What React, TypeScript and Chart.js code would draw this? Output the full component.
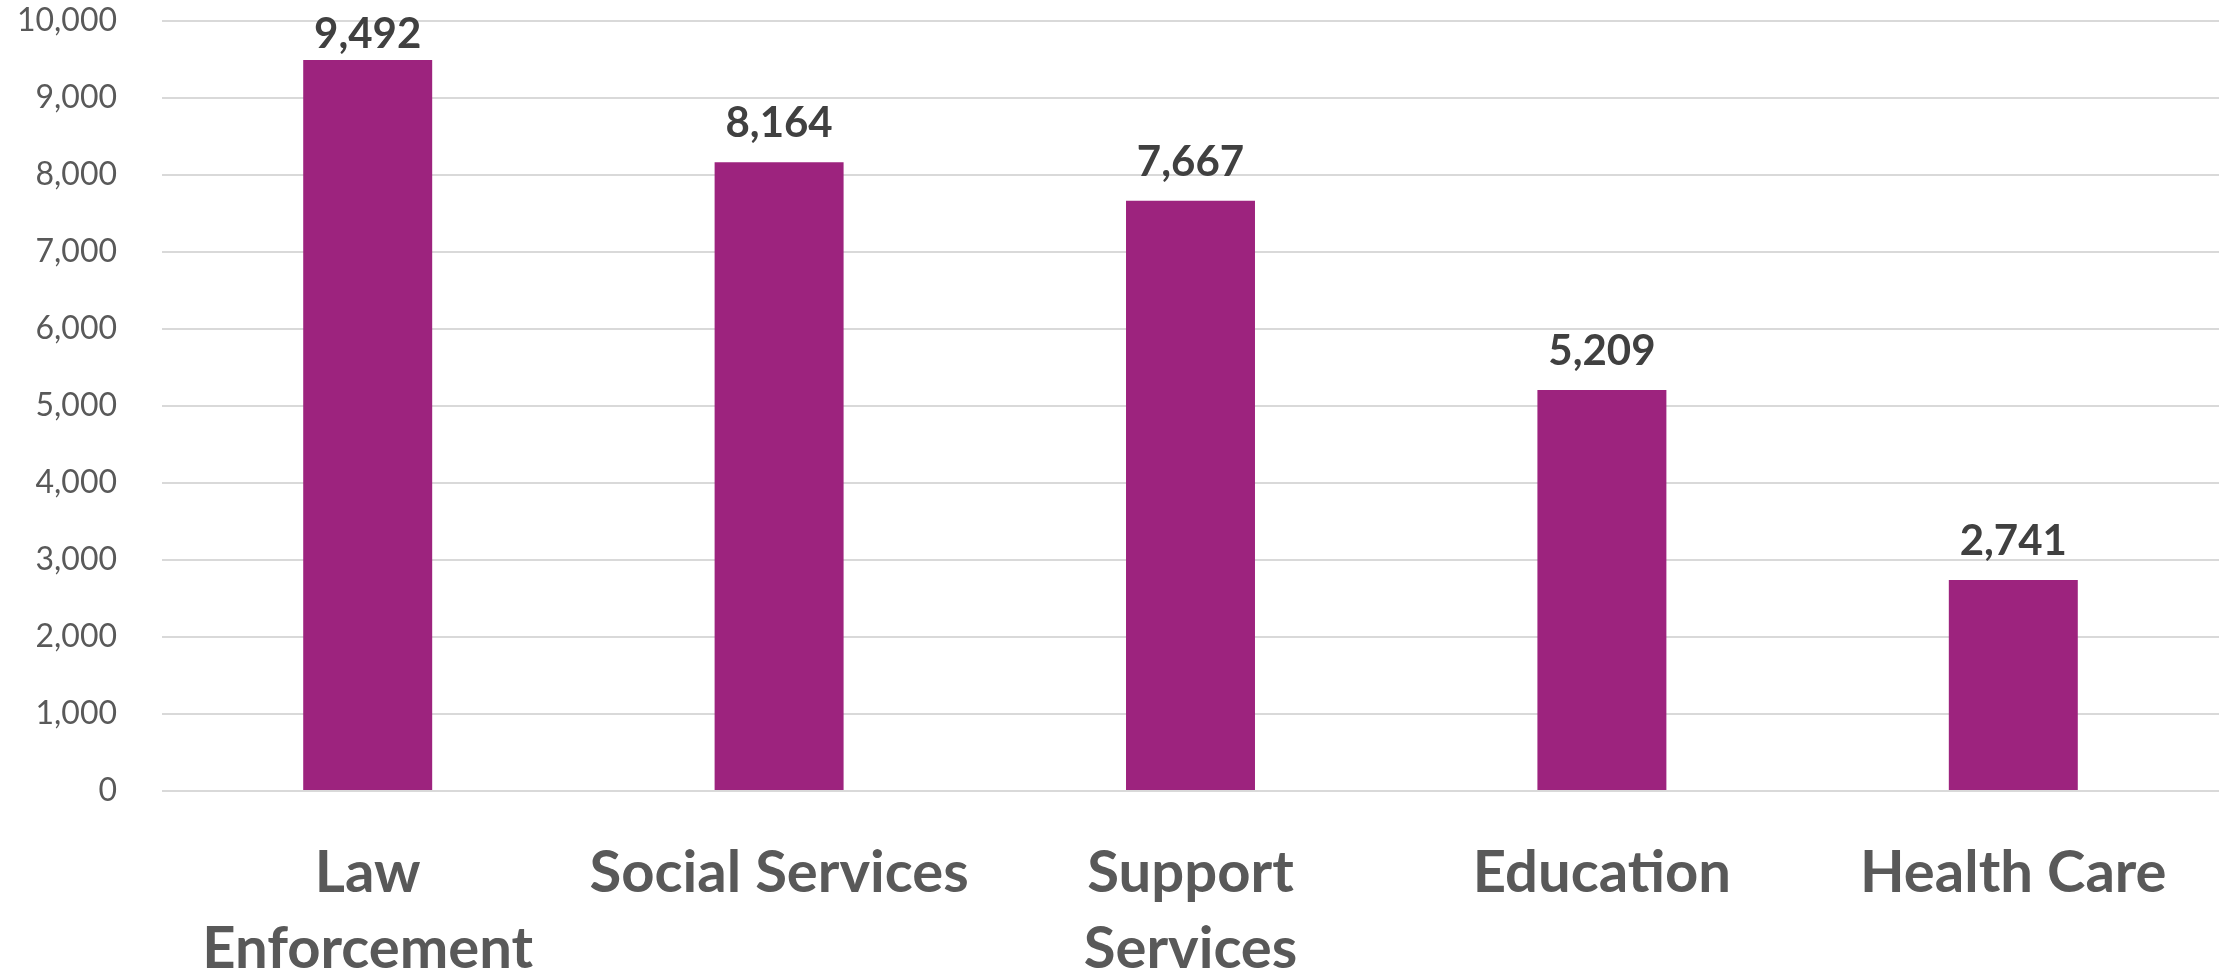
import React, { useEffect, useRef } from "react";
import { Chart, registerables } from "chart.js";

Chart.register(...registerables);

const categories: (string | string[])[] = [
  ["Law", "Enforcement"],
  "Social Services",
  ["Support", "Services"],
  "Education",
  "Health Care",
];
const values: number[] = [9492, 8164, 7667, 5209, 2741];
const yTicks: number[] = [0, 1000, 2000, 3000, 4000, 5000, 6000, 7000, 8000, 9000, 10000];

const BAR_COLOR = "#9D237E";
const FONT = "Lato, 'Open Sans', sans-serif";

const fmt = (v: number) => v.toLocaleString("en-US");

const dataLabelPlugin = {
  id: "dataLabels",
  afterDatasetsDraw(chart: any) {
    const ctx = chart.ctx;
    const meta = chart.getDatasetMeta(0);
    ctx.save();
    ctx.font = `bold 42px ${FONT}`;
    ctx.fillStyle = "#404040";
    ctx.textAlign = "center";
    ctx.textBaseline = "alphabetic";
    meta.data.forEach((bar: any, i: number) => {
      const y = Math.max(bar.y - 25, chart.chartArea.top + 27);
      ctx.fillText(fmt(values[i]), bar.x, y);
    });
    ctx.restore();
  },
};

export default function App() {
  const ref = useRef<HTMLCanvasElement | null>(null);
  useEffect(() => {
    if (!ref.current) return;
    const chart = new Chart(ref.current, {
      type: "bar",
      data: {
        labels: categories,
        datasets: [
          {
            data: values,
            backgroundColor: BAR_COLOR,
            borderWidth: 0,
            categoryPercentage: 1,
            barPercentage: 0.3135,
          },
        ],
      },
      options: {
        responsive: false,
        animation: false,
        devicePixelRatio: 1,
        layout: { padding: { left: 0, right: 15, top: 21, bottom: 0 } },
        plugins: {
          legend: { display: false },
          tooltip: { enabled: false },
        },
        scales: {
          x: {
            grid: { display: false, drawTicks: false },
            border: { display: false },
            ticks: {
              color: "#595959",
              font: { family: FONT, size: 58, weight: "bold", lineHeight: 1.3 },
              padding: 45,
              maxRotation: 0,
              autoSkip: false,
            },
            afterFit(scale: any) {
              scale.height = 184;
              scale.paddingLeft = 0;
              scale.paddingRight = 0;
            },
          },
          y: {
            min: 0,
            max: 10000,
            afterBuildTicks(scale: any) {
              scale.ticks = yTicks.map((v) => ({ value: v }));
            },
            grid: { color: "#D9D9D9", lineWidth: 2, drawTicks: false },
            border: { display: false },
            ticks: {
              color: "#595959",
              font: { family: FONT, size: 32 },
              padding: 45,
              callback: (v: any) => fmt(Number(v)),
            },
            afterFit(scale: any) {
              scale.width = 162;
              scale.paddingTop = 0;
              scale.paddingBottom = 0;
            },
          },
        },
      },
      plugins: [dataLabelPlugin],
    });
    return () => chart.destroy();
  }, []);
  return (
    <div style={{ position: "absolute", left: 0, top: 0, width: 2234, height: 975, background: "#fff" }}>
      <canvas ref={ref} width={2234} height={975} style={{ display: "block" }} />
    </div>
  );
}
